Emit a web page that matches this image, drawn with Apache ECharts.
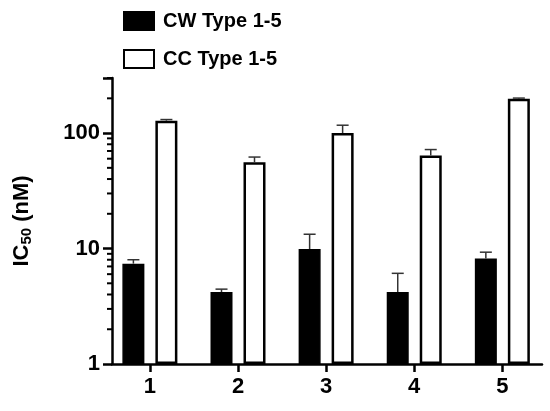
<!DOCTYPE html><html><head><meta charset="utf-8"><script src="https://cdn.jsdelivr.net/npm/echarts@6/dist/echarts.min.js"></script></head><body style="margin:0"><div id="c" style="width:550px;height:411px"></div><script>
const categories=[1,2,3,4,5];
const cwValues=[7.4,4.2,9.9,4.2,8.2];
const cwErrTop=[8.0,4.45,13.3,6.1,9.3];
const ccValues=[128,56,100,64,198];
const ccErrTop=[131,62,117,72,201];
const minorTicks=[2,3,4,5,6,7,8,9,20,30,40,50,60,70,80,90,200,300];
const F='Liberation Sans';
const off=16.5;
function errSeries(vals,tops,dx){return{type:'custom',z:5,data:categories.map((c,i)=>[c,vals[i],tops[i]]),renderItem:(p,api)=>{const a=api.coord([api.value(0),api.value(1)]),b=api.coord([api.value(0),api.value(2)]);const x=a[0]+dx;return{type:'group',children:[{type:'line',shape:{x1:x,y1:a[1],x2:x,y2:b[1]},style:{stroke:'#333',lineWidth:1.5}},{type:'line',shape:{x1:x-6,y1:b[1],x2:x+6,y2:b[1]},style:{stroke:'#333',lineWidth:1.5}}]}}}}
const chart=echarts.init(document.getElementById('c'));
chart.setOption({animation:false,
legend:{orient:'vertical',left:118,top:6,icon:'rect',itemWidth:30,itemHeight:18,itemGap:18,data:['CW Type 1-5','CC Type 1-5'],textStyle:{fontFamily:F,fontSize:20,fontWeight:'bold',color:'#000',padding:[0,0,0,4]}},
grid:{left:112,right:8,top:78,bottom:47},
xAxis:{type:'value',min:0.57,max:5.45,splitLine:{show:false},axisLine:{lineStyle:{color:'#000',width:2.5}},axisTick:{customValues:categories,length:8,lineStyle:{width:2.5,color:'#000'}},axisLabel:{customValues:categories,fontFamily:F,fontSize:22,fontWeight:'bold',color:'#000',margin:12}},
yAxis:{type:'log',min:1,max:300,logBase:10,splitLine:{show:false},axisLine:{show:true,lineStyle:{color:'#000',width:2.5}},axisTick:{show:true,length:9,lineStyle:{width:2.5,color:'#000'}},axisLabel:{fontFamily:F,fontSize:22,fontWeight:'bold',color:'#000',margin:12,formatter:v=>[1,10,100].includes(Math.round(v))?String(Math.round(v)):''},
name:'{a|IC}{s|50}{a| (nM)}',nameLocation:'middle',nameGap:78,nameRotate:90,nameTextStyle:{rich:{a:{fontFamily:F,fontSize:22,fontWeight:'bold',color:'#000'},s:{fontFamily:F,fontSize:15,fontWeight:'bold',color:'#000',verticalAlign:'bottom',padding:[9,0,0,0]}}}},
series:[
{name:'CW Type 1-5',type:'bar',barWidth:22,barGap:'50%',data:categories.map((c,i)=>[c,cwValues[i]]),itemStyle:{color:'#000',borderColor:'#000',borderWidth:1.5}},
{name:'CC Type 1-5',type:'bar',barWidth:22,barGap:'50%',data:categories.map((c,i)=>[c,ccValues[i]]),itemStyle:{color:'#fff',borderColor:'#000',borderWidth:2.5}},
errSeries(cwValues,cwErrTop,-off),errSeries(ccValues,ccErrTop,off),
{type:'custom',data:minorTicks.map(v=>[0.57,v]),renderItem:(p,api)=>{const a=api.coord([api.value(0),api.value(1)]);return{type:'line',shape:{x1:a[0]-5,y1:a[1],x2:a[0],y2:a[1]},style:{stroke:'#000',lineWidth:2}}}}
]});
</script></body></html>
